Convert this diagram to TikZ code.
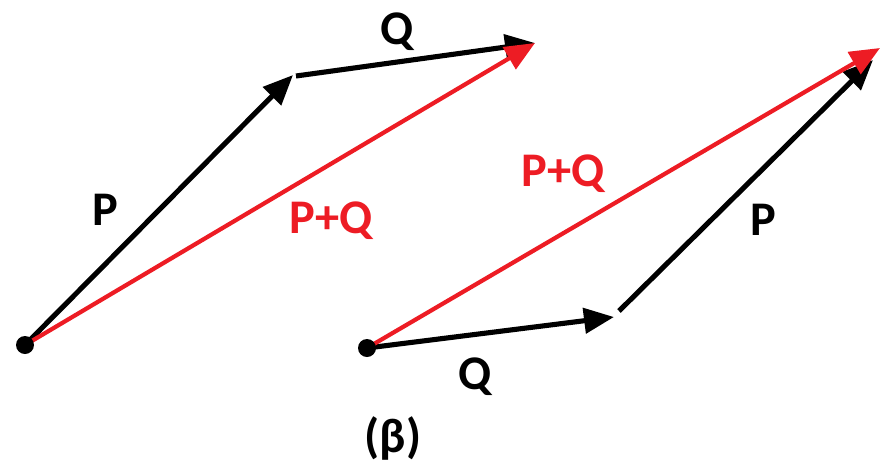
\documentclass[tikz,border=0pt]{standalone}
\usepackage{fontspec}
\setmainfont{Carlito}
\usepackage{tikz}
\usetikzlibrary{arrows.meta, positioning, calc}
\definecolor{vecred}{RGB}{237,28,36}
\tikzstyle{vec} = [line width=2.9pt, -{Triangle[length=6mm, width=5mm]}, draw=black]
\tikzstyle{sumvec} = [line width=2.4pt, -{Triangle[length=6mm, width=5mm]}, draw=vecred]
\tikzstyle{lbl} = [font=\fontsize{27.5}{32}\selectfont\bfseries, text=black]
\tikzstyle{sumlbl} = [lbl, text=vecred]

\begin{document}
\begin{tikzpicture}[x=0.02cm, y=-0.02cm]
  \useasboundingbox (0,0) rectangle (882,467);
  % Trái: P rồi Q
  \coordinate (o1) at (25,345);
  \coordinate (a1) at (293,75);
  \coordinate (b1) at (296,76);
  \coordinate (e1) at (535,43);
  % Phải: Q rồi P
  \coordinate (o2) at (367,348);
  \coordinate (a2) at (614,317);
  \coordinate (b2) at (619,311);
  \coordinate (t2) at (873,60);
  \coordinate (e2) at (880,48);

  % Mũi tên trái
  \draw[vec] (o1) -- (a1);
  \draw[vec] (b1) -- (e1);
  \draw[sumvec] (o1) -- (e1);
  \fill (o1) circle[radius=9];

  % Mũi tên phải
  \draw[vec] (o2) -- (a2);
  \draw[vec] (b2) -- (t2);
  \draw[sumvec] (o2) -- (e2);
  \fill (o2) circle[radius=9];

  % Nhãn
  \node[lbl] (p1) at (105,210) {P};
  \node[lbl] (q1) at (397,32) {Q};
  \node[sumlbl] (s1) at (331,221) {P+Q};
  \node[sumlbl] (s2) at (563,174) {P+Q};
  \node[lbl] (p2) at (763,220) {P};
  \node[lbl] (q2) at (475,377) {Q};
  \node[lbl] (beta) at (393,438) {(β)};
\end{tikzpicture}
\end{document}
